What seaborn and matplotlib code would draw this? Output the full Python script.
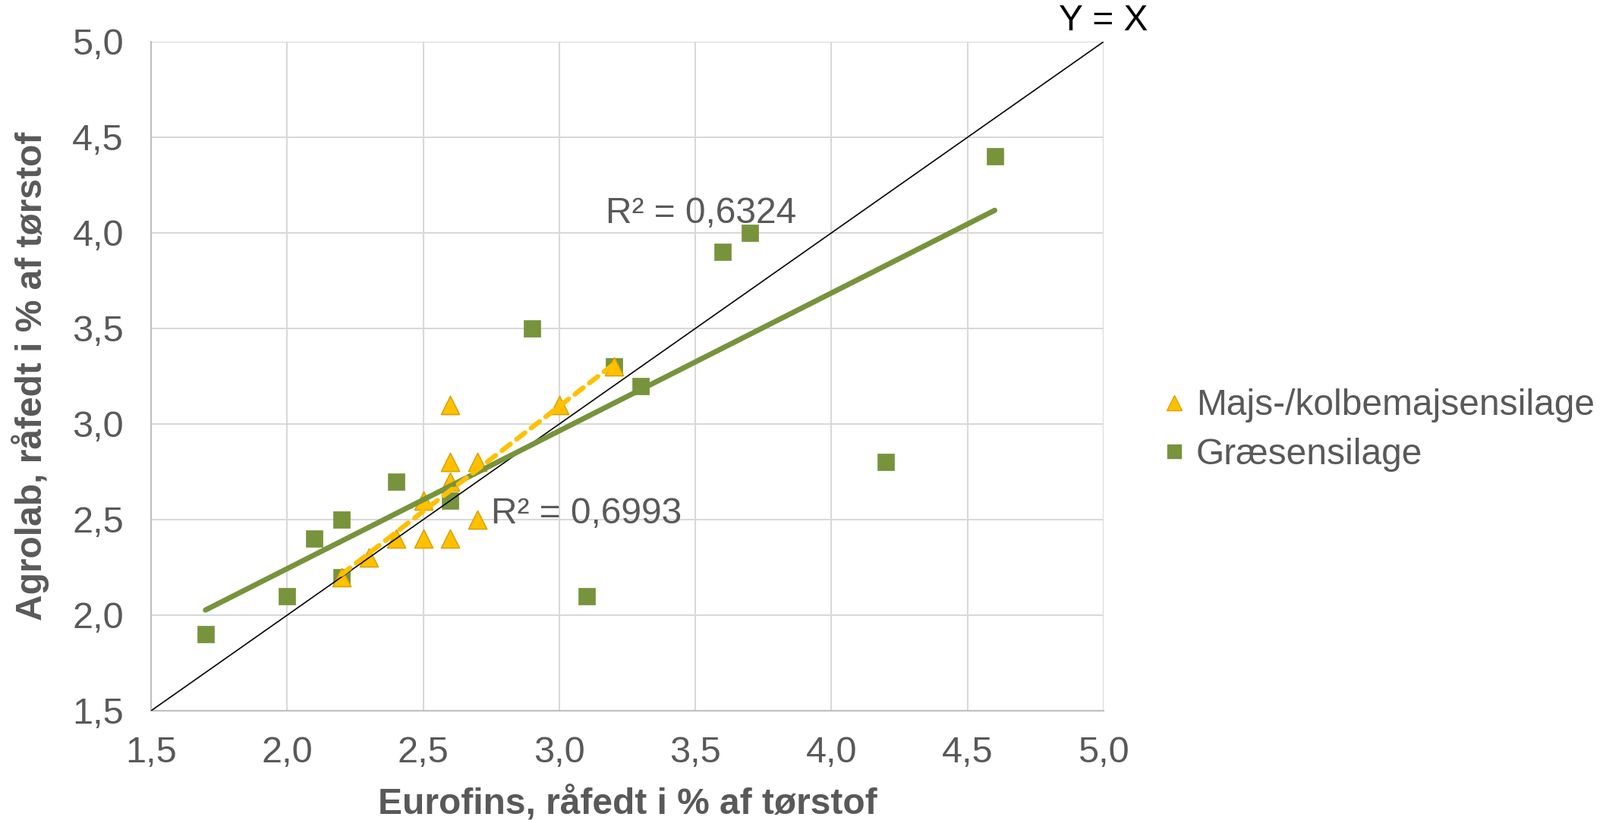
import numpy as np
import pandas as pd
import matplotlib
matplotlib.use("Agg")
import matplotlib.pyplot as plt
import seaborn as sns
from matplotlib.lines import Line2D

# Data
majs_x = [2.2, 2.3, 2.4, 2.5, 2.5, 2.6, 2.6, 2.6, 2.6, 2.7, 2.7, 3.0, 3.2]
majs_y = [2.2, 2.3, 2.4, 2.4, 2.6, 2.4, 2.7, 2.8, 3.1, 2.8, 2.5, 3.1, 3.3]
graes_x = [1.7, 2.0, 2.1, 2.2, 2.2, 2.4, 2.6, 2.9, 3.1, 3.2, 3.3, 3.6, 3.7, 4.2, 4.6]
graes_y = [1.9, 2.1, 2.4, 2.5, 2.2, 2.7, 2.6, 3.5, 2.1, 3.3, 3.2, 3.9, 4.0, 2.8, 4.4]
ticks = [1.5, 2.0, 2.5, 3.0, 3.5, 4.0, 4.5, 5.0]
tick_labels = ["1,5", "2,0", "2,5", "3,0", "3,5", "4,0", "4,5", "5,0"]
series_names = ["Majs-/kolbemajsensilage", "Græsensilage"]
r2_labels = ["R² = 0,6993", "R² = 0,6324"]

GREEN = "#77933C"
YELLOW = "#FFC000"
TXT = "#595959"
FS = 34.5

majs = pd.DataFrame({"x": majs_x, "y": majs_y})
graes = pd.DataFrame({"x": graes_x, "y": graes_y})

sns.set_style("white")
plt.rcParams["font.family"] = ["Liberation Sans", "DejaVu Sans"]

fig = plt.figure(figsize=(21.08, 10.81), dpi=100)
ax = fig.add_axes([199/2108, 1-937/1081, (1454-199)/2108, (937-55)/1081])

ax.set_xlim(1.5, 5.0)
ax.set_ylim(1.5, 5.0)
ax.set_xticks(ticks)
ax.set_yticks(ticks)
ax.set_xticklabels(tick_labels)
ax.set_yticklabels(tick_labels)
ax.grid(True, color="#d9d9d9", lw=1.5, zorder=0)
ax.set_axisbelow(True)
for s in ["top", "right"]:
    ax.spines[s].set_visible(False)
for s in ["left", "bottom"]:
    ax.spines[s].set_color("#bfbfbf")
    ax.spines[s].set_linewidth(1.5)
ax.tick_params(axis="both", length=0, labelsize=35, colors=TXT)
ax.tick_params(axis="x", pad=24)
ax.tick_params(axis="y", pad=26)

sns.scatterplot(data=graes, x="x", y="y", marker="s", s=240, color=GREEN,
                edgecolor=GREEN, linewidth=0.5, ax=ax, zorder=3, legend=False)
sns.scatterplot(data=majs, x="x", y="y", marker="^", s=300, color=YELLOW,
                edgecolor="#D9A400", linewidth=1.2, ax=ax, zorder=4, legend=False)

# Y = X
ax.plot([1.5, 5.0], [1.5, 5.0], color="black", lw=1.2, zorder=5)

sns.regplot(data=graes, x="x", y="y", scatter=False, ci=None, truncate=True, ax=ax,
            line_kws={"color": GREEN, "lw": 5.0, "solid_capstyle": "round", "zorder": 6})
sns.regplot(data=majs, x="x", y="y", scatter=False, ci=None, truncate=True, ax=ax,
            line_kws={"color": YELLOW, "lw": 4.6, "ls": (0, (2.2, 1.6)),
                      "dash_capstyle": "round", "zorder": 7})

ax.set_xlabel("Eurofins, råfedt i % af tørstof", fontsize=FS, fontweight="bold", color=TXT, labelpad=14)
ax.set_ylabel("Agrolab, råfedt i % af tørstof", fontsize=FS, fontweight="bold", color=TXT, labelpad=22)

ax.text(2.75, 2.53, r2_labels[0], fontsize=FS, color=TXT, va="center", ha="left", zorder=8)
ax.text(3.17, 4.1, r2_labels[1], fontsize=FS, color=TXT, va="center", ha="left", zorder=8)
ax.text(5.0, 5.02, "Y = X", fontsize=FS, color="black", va="bottom", ha="center", clip_on=False)

handles = [
    Line2D([], [], marker="^", ls="none", color=YELLOW, markeredgecolor="#D9A400", markersize=14),
    Line2D([], [], marker="s", ls="none", color=GREEN, markersize=13),
]
fig.legend(handles, series_names, loc="center left", bbox_to_anchor=(1480/2108, 1-567/1081),
           frameon=False, fontsize=FS, labelcolor=TXT, handletextpad=0.1, handlelength=1.0,
           labelspacing=0.4)

fig.savefig("out.png", dpi=100)
